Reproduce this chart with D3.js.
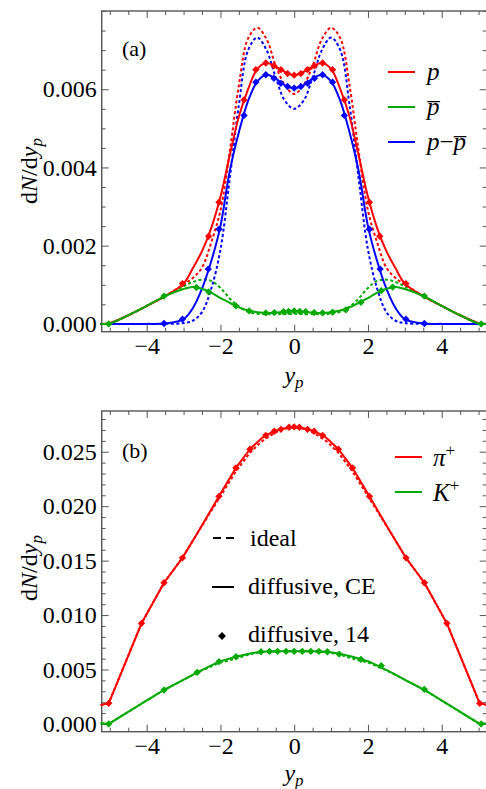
<!DOCTYPE html>
<meta charset="utf-8">
<style>
  body { margin: 0; background: #fff; }
  svg text { font-family: 'Liberation Serif', 'Times New Roman', serif; }
</style>
<svg width="486" height="789"></svg>
<script src="https://cdn.jsdelivr.net/npm/d3@7/dist/d3.min.js"></script>
<script>
// panel (a): rapidity grid and curves
const yA = [-5.25, -5, -4.5, -4, -3.5, -3, -2.75, -2.5, -2.25, -2, -1.75, -1.5, -1.25, -1, -0.75, -0.5, -0.25, 0,
  0.25, 0.5, 0.75, 1, 1.25, 1.5, 1.75, 2, 2.25, 2.5, 2.75, 3, 3.5, 4, 4.5, 5, 5.25]
const pCE = [0, 0.00002, 0.00022, 0.00046, 0.00071, 0.00103, 0.00142, 0.00186, 0.00245, 0.00325, 0.0043, 0.0053, 0.006, 0.00652, 0.00667, 0.00658, 0.00644, 0.00636,
  0.00644, 0.00658, 0.00667, 0.00652, 0.006, 0.0053, 0.0043, 0.00325, 0.00245, 0.00186, 0.00142, 0.00103, 0.00071, 0.00046, 0.00022, 0.00002, 0]
const pIdeal = [0, 0.00002, 0.00022, 0.00046, 0.00071, 0.00101, 0.00117, 0.00144, 0.00208, 0.0029, 0.0044, 0.0061, 0.0073, 0.00757, 0.00728, 0.0066, 0.0061, 0.00588,
  0.0061, 0.0066, 0.00728, 0.00757, 0.0073, 0.0061, 0.0044, 0.0029, 0.00208, 0.00144, 0.00117, 0.00101, 0.00071, 0.00046, 0.00022, 0.00002, 0]
const pbarCE = [0, 0.00001, 0.00022, 0.00046, 0.00071, 0.00089, 0.00094, 0.0009, 0.0008, 0.00066, 0.00054, 0.00042, 0.00034, 0.0003, 0.00028, 0.00029, 0.00031, 0.00032,
  0.00031, 0.00029, 0.00028, 0.0003, 0.00034, 0.00042, 0.00054, 0.00066, 0.0008, 0.0009, 0.00094, 0.00089, 0.00071, 0.00046, 0.00022, 0.00001, 0]
const pbarIdeal = [0, 0.00001, 0.00022, 0.00046, 0.00071, 0.00096, 0.00107, 0.00113, 0.0011, 0.00092, 0.00065, 0.00044, 0.00031, 0.00026, 0.00025, 0.00025, 0.00025, 0.00026,
  0.00025, 0.00025, 0.00025, 0.00026, 0.00031, 0.00044, 0.00065, 0.00092, 0.0011, 0.00113, 0.00107, 0.00096, 0.00071, 0.00046, 0.00022, 0.00001, 0]
const netCE = [0, 0, 0, 0, 0.00001, 0.00012, 0.0004, 0.0009, 0.0016, 0.0025, 0.0039, 0.0049, 0.0057, 0.0062, 0.00637, 0.00627, 0.0061, 0.00603,
  0.0061, 0.00627, 0.00637, 0.0062, 0.0057, 0.0049, 0.0039, 0.0025, 0.0016, 0.0009, 0.0004, 0.00012, 0.00001, 0, 0, 0, 0]
const netIdeal = [0, 0, 0, 0, 0, 0.00002, 0.00008, 0.0003, 0.0009, 0.0019, 0.0037, 0.0056, 0.007, 0.00732, 0.007, 0.0063, 0.0057, 0.0055,
  0.0057, 0.0063, 0.007, 0.00732, 0.007, 0.0056, 0.0037, 0.0019, 0.0009, 0.0003, 0.00008, 0.00002, 0, 0, 0, 0, 0]

// panel (a): "diffusive, 14" points
const pMarkY = [-3.03, -2.32, -2.04, -1.36, -1.04, -0.77, -0.55, -0.36, -0.18, 0, 0.18, 0.36, 0.55, 0.77, 1.04, 1.36, 2.04, 2.32, 3.03]
const pMarkV = [0.00103, 0.00224, 0.00311, 0.00573, 0.0065, 0.00667, 0.0066, 0.0065, 0.0064, 0.00636, 0.0064, 0.0065, 0.0066, 0.00667, 0.0065, 0.00573, 0.00311, 0.00224, 0.00103]
const netMarkY = [-3.53, -3.03, -2.33, -2.04, -1.36, -1.04, -0.77, -0.55, -0.36, -0.18, 0, 0.18, 0.36, 0.55, 0.77, 1.04, 1.36, 2.04, 2.33, 3.03, 3.53]
const netMarkV = [0.00001, 0.00012, 0.0014, 0.00242, 0.00533, 0.00618, 0.00637, 0.00628, 0.00615, 0.00607, 0.00603, 0.00607, 0.00615, 0.00628, 0.00637, 0.00618, 0.00533, 0.00242, 0.0014, 0.00012, 0.00001]
const pbarMarkY = [-5.03, -3.53, -2.65, -2.32, -1.58, -1.22, -0.77, -0.54, -0.29, -0.15, 0, 0.15, 0.31, 0.54, 0.77, 1.04, 1.4, 1.81, 2.36, 2.67, 3.53, 5.07]
const pbarMarkV = [0, 0.00071, 0.00093, 0.00082, 0.00046, 0.00033, 0.00028, 0.00029, 0.00031, 0.00032, 0.00033, 0.00032, 0.00031, 0.00029, 0.00028, 0.0003, 0.00036, 0.00055, 0.00085, 0.00094, 0.00071, 0]

// panel (b)
const yB = [-5.25, -5.03, -4.14, -3.53, -3.03, -2.63, -2.04, -1.58, -1.2, -0.9, -0.77, -0.54, -0.36, -0.14, 0,
  0.14, 0.36, 0.54, 0.77, 0.9, 1.2, 1.58, 2.04, 2.63, 3.03, 3.53, 4.14, 5.03, 5.25]
const piCE = [0.00174, 0.0019, 0.00924, 0.01297, 0.01526, 0.0175, 0.0209, 0.02352, 0.02523, 0.0262, 0.02651, 0.02688, 0.02706, 0.02725, 0.02728,
  0.02725, 0.02706, 0.02688, 0.02651, 0.0262, 0.02523, 0.02352, 0.0209, 0.0175, 0.01526, 0.01297, 0.00924, 0.0019, 0.00174]
const piIdeal = [0.00174, 0.0019, 0.00924, 0.01297, 0.01526, 0.0175, 0.0207, 0.0232, 0.0249, 0.0259, 0.0262, 0.0267, 0.027, 0.0272, 0.02725,
  0.0272, 0.027, 0.0267, 0.0262, 0.0259, 0.0249, 0.0232, 0.0207, 0.0175, 0.01526, 0.01297, 0.00924, 0.0019, 0.00174]
const kCE = [0.00006, 0, 0.00186, 0.00312, 0.004, 0.00474, 0.00572, 0.00618, 0.00648, 0.00663, 0.00665, 0.00667, 0.00667, 0.00667, 0.00667,
  0.00667, 0.00667, 0.00667, 0.00665, 0.00663, 0.00648, 0.00618, 0.00572, 0.00474, 0.004, 0.00312, 0.00186, 0, 0.00006]
const kIdeal = [0.00006, 0, 0.00186, 0.00312, 0.004, 0.00472, 0.0056, 0.006, 0.0064, 0.0066, 0.00662, 0.00665, 0.00667, 0.00667, 0.00667,
  0.00667, 0.00667, 0.00665, 0.00662, 0.0066, 0.0064, 0.006, 0.0056, 0.00472, 0.004, 0.00312, 0.00186, 0, 0.00006]
const piMarkY = [-5.03, -4.14, -3.53, -3.03, -2.04, -1.58, -1.2, -0.77, -0.54, -0.36, -0.14, 0, 0.14, 0.36, 0.54, 0.77, 1.2, 1.58, 2.04, 3.03, 3.53, 4.14, 5.03]
const piMarkV = [0.0019, 0.00924, 0.01297, 0.01526, 0.0209, 0.02352, 0.02523, 0.02651, 0.02688, 0.02706, 0.02725, 0.02728,
  0.02725, 0.02706, 0.02688, 0.02651, 0.02523, 0.02352, 0.0209, 0.01526, 0.01297, 0.00924, 0.0019]
const kMarkY = [-5.03, -3.53, -2.63, -2.04, -1.58, -0.9, -0.67, -0.45, -0.22, 0, 0.22, 0.45, 0.67, 0.9, 1.22, 1.81, 2.36, 3.53, 5.07]
const kMarkV = [0, 0.00312, 0.00474, 0.00572, 0.00618, 0.00663, 0.00666, 0.00667, 0.00667, 0.00667, 0.00667, 0.00667, 0.00666, 0.00663, 0.00642, 0.00594, 0.00535, 0.00318, 0]

// ticks
const xMajor = [-4, -2, 0, 2, 4]
const xMinor = [-5, -4.5, -3.5, -3, -2.5, -1.5, -1, -0.5, 0.5, 1, 1.5, 2.5, 3, 3.5, 4.5, 5]
const yMajorA = [0, 0.002, 0.004, 0.006]
const yMinorA = [0.0005, 0.001, 0.0015, 0.0025, 0.003, 0.0035, 0.0045, 0.005, 0.0055, 0.0065, 0.007, 0.0075, 0.008]
const yMajorB = [0, 0.005, 0.01, 0.015, 0.02, 0.025]
const yMinorB = [0.001, 0.002, 0.003, 0.004, 0.006, 0.007, 0.008, 0.009, 0.011, 0.012, 0.013, 0.014,
  0.016, 0.017, 0.018, 0.019, 0.021, 0.022, 0.023, 0.024, 0.026, 0.027, 0.028]

const RED = '#ff0000', GREEN = '#00aa00', BLUE = '#0000ff'
const FRAME = '#555'
const SERIF = "'Liberation Serif', 'Times New Roman', serif"

const svg = d3.select('svg')
const x = d3.scaleLinear().domain([-5.22, 5.22]).range([101.7, 486.7])

function frame(y, top, bottom, yMajor, yMinor) {
  const g = svg.append('g')
  const axes = [
    [d3.axisBottom, `translate(0,${bottom})`, x, xMajor, xMinor, d3.format('d'), true],
    [d3.axisTop, `translate(0,${top})`, x, xMajor, xMinor, null, false],
    [d3.axisLeft, `translate(${x.range()[0]},0)`, y, yMajor, yMinor, d3.format('.3f'), true],
    [d3.axisRight, `translate(${x.range()[1]},0)`, y, yMajor, yMinor, null, false]
  ]
  axes.forEach(([axis, tr, sc, major, minor, fmt, labels]) => {
    g.append('g').attr('transform', tr)
      .call(axis(sc).tickValues(major).tickSize(-7).tickPadding(5).tickFormat(labels ? fmt : () => ''))
    g.append('g').attr('transform', tr)
      .call(axis(sc).tickValues(minor).tickSize(-4).tickFormat(() => ''))
  })
  g.selectAll('.domain').remove()
  g.selectAll('g').attr('font-family', SERIF).attr('font-size', 24)
  g.selectAll('.tick line').attr('stroke', FRAME).attr('stroke-width', 1)
  g.selectAll('.tick text').attr('fill', '#000')
    .style('font-family', SERIF).style('font-size', '24px')
  g.append('rect')
    .attr('x', x.range()[0]).attr('y', top)
    .attr('width', x.range()[1] - x.range()[0]).attr('height', bottom - top)
    .attr('fill', 'none').attr('stroke', FRAME).attr('stroke-width', 1.4)
}

function series(y, xs, vs, color, dotted, curve) {
  const line = d3.line().x(d => x(d[0])).y(d => y(d[1])).curve(curve)
  svg.append('path')
    .datum(xs.map((v, i) => [v, vs[i]]))
    .attr('d', line)
    .attr('fill', 'none')
    .attr('stroke', color)
    .attr('stroke-width', 2)
    .attr('stroke-dasharray', dotted ? '3,2.4' : null)
}

function marks(y, xs, vs, color) {
  svg.append('g').selectAll('path')
    .data(xs.map((v, i) => [v, vs[i]]))
    .join('path')
    .attr('transform', d => `translate(${x(d[0])},${y(d[1])})`)
    .attr('d', d3.symbol(d3.symbolDiamond2, 34))
    .attr('fill', color)
}

function yLabel(cx, cy) {
  const t = svg.append('text')
    .attr('transform', `translate(${cx},${cy}) rotate(-90)`)
    .attr('text-anchor', 'middle')
    .style('font-size', '24px')
  t.append('tspan').text('d')
  t.append('tspan').style('font-style', 'italic').text('N')
  t.append('tspan').text('/d')
  t.append('tspan').style('font-style', 'italic').text('y')
  t.append('tspan').style('font-style', 'italic').style('font-size', '17px').attr('dy', 5).text('p')
}

function xLabel(cx, cy) {
  const t = svg.append('text')
    .attr('x', cx).attr('y', cy)
    .attr('text-anchor', 'middle')
    .style('font-size', '24px')
  t.append('tspan').style('font-style', 'italic').text('y')
  t.append('tspan').style('font-style', 'italic').style('font-size', '17px').attr('dy', 5).text('p')
}

// ---------- panel (a)
const yAs = d3.scaleLinear().domain([-0.0002, 0.008]).range([331.7, 11])
frame(yAs, 11, 331.7, yMajorA, yMinorA)
const smooth = d3.curveCatmullRom.alpha(0.5)
series(yAs, yA, pIdeal, RED, true, smooth)
series(yAs, yA, netIdeal, BLUE, true, smooth)
series(yAs, yA, pbarIdeal, GREEN, true, smooth)
series(yAs, yA, pCE, RED, false, smooth)
series(yAs, yA, netCE, BLUE, false, smooth)
series(yAs, yA, pbarCE, GREEN, false, smooth)
marks(yAs, pMarkY, pMarkV, RED)
marks(yAs, netMarkY, netMarkV, BLUE)
marks(yAs, pbarMarkY, pbarMarkV, GREEN)

svg.append('text').attr('x', 122).attr('y', 56).style('font-size', '22px').text('(a)')
yLabel(37, 171)
xLabel(294, 383)

const legA = [[RED, 72, 'p'], [GREEN, 107, 'pbar'], [BLUE, 142, 'net']]
legA.forEach(([c, ly, kind]) => {
  svg.append('line').attr('x1', 388).attr('x2', 415).attr('y1', ly).attr('y2', ly)
    .attr('stroke', c).attr('stroke-width', 2)
  const t = svg.append('text').attr('x', 427).attr('y', ly + 8)
    .style('font-size', '25px').style('font-style', 'italic')
  if (kind === 'p') t.append('tspan').text('p')
  if (kind === 'pbar') t.append('tspan').text('p\u0305')
  if (kind === 'net') {
    t.append('tspan').text('p')
    t.append('tspan').style('font-style', 'normal').text('−')
    t.append('tspan').text('p\u0305')
  }
})

// ---------- panel (b)
const yBs = d3.scaleLinear().domain([-0.00071, 0.02874]).range([731.7, 411])
frame(yBs, 411, 731.7, yMajorB, yMinorB)
series(yBs, yB, piIdeal, RED, true, d3.curveLinear)
series(yBs, yB, kIdeal, GREEN, true, d3.curveLinear)
series(yBs, yB, piCE, RED, false, d3.curveLinear)
series(yBs, yB, kCE, GREEN, false, d3.curveLinear)
marks(yBs, piMarkY, piMarkV, RED)
marks(yBs, kMarkY, kMarkV, GREEN)

svg.append('text').attr('x', 122).attr('y', 458).style('font-size', '22px').text('(b)')
yLabel(37, 568)
xLabel(294, 781)

const legB = [[RED, 457, 'π'], [GREEN, 492, 'K']]
legB.forEach(([c, ly, name]) => {
  svg.append('line').attr('x1', 395).attr('x2', 422).attr('y1', ly).attr('y2', ly)
    .attr('stroke', c).attr('stroke-width', 2)
  const t = svg.append('text').attr('x', 433).attr('y', ly + 9)
    .style('font-size', '25px')
  t.append('tspan').style('font-style', 'italic').text(name)
  t.append('tspan').style('font-size', '17px').attr('dy', -10).text('+')
})

// style legend
svg.append('line').attr('x1', 213).attr('x2', 235).attr('y1', 538).attr('y2', 538)
  .attr('stroke', '#000').attr('stroke-width', 2).attr('stroke-dasharray', '8,5')
svg.append('text').attr('x', 250).attr('y', 546).style('font-size', '24px').text('ideal')
svg.append('line').attr('x1', 212).attr('x2', 234).attr('y1', 587).attr('y2', 587)
  .attr('stroke', '#000').attr('stroke-width', 2)
svg.append('text').attr('x', 248).attr('y', 594).style('font-size', '24px').text('diffusive, CE')
svg.append('path').attr('transform', 'translate(222,636)')
  .attr('d', d3.symbol(d3.symbolDiamond2, 40)).attr('fill', '#000')
svg.append('text').attr('x', 248).attr('y', 642).style('font-size', '24px').text('diffusive, 14')
</script>
